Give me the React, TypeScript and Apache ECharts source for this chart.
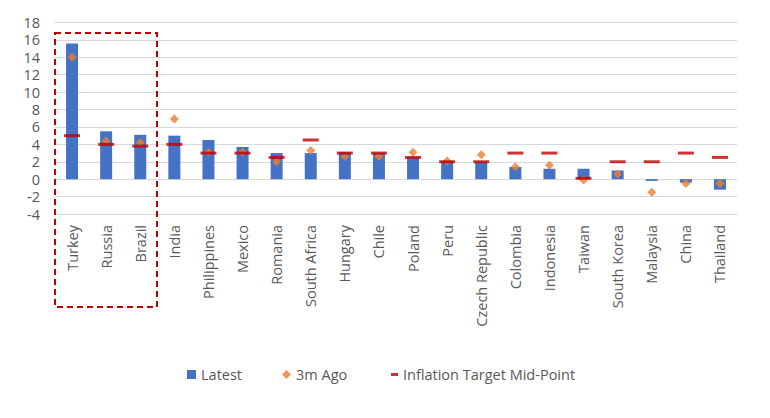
import React, { useEffect, useRef } from "react";
import * as echarts from "echarts";

const categories = [
  "Turkey", "Russia", "Brazil", "India", "Philippines", "Mexico", "Romania",
  "South Africa", "Hungary", "Chile", "Poland", "Peru", "Czech Republic",
  "Colombia", "Indonesia", "Taiwan", "South Korea", "Malaysia", "China", "Thailand",
];
const latest = [15.6, 5.5, 5.1, 5.0, 4.5, 3.7, 3.0, 3.0, 3.1, 3.0, 2.5, 2.1, 2.0, 1.4, 1.2, 1.2, 1.0, -0.2, -0.4, -1.2];
const ago3m = [14.0, 4.4, 4.2, 6.9, 3.1, 3.1, 2.0, 3.3, 2.6, 2.6, 3.1, 2.1, 2.8, 1.4, 1.6, -0.1, 0.6, -1.5, -0.5, -0.5];
const target = [5.0, 4.0, 3.8, 4.0, 3.0, 3.0, 2.5, 4.5, 3.0, 3.0, 2.5, 2.0, 2.0, 3.0, 3.0, 0.1, 2.0, 2.0, 3.0, 2.5];
const yTicks = { min: -4, max: 18, interval: 2 };

const FONT = "'Open Sans', 'Noto Sans', sans-serif";
const GREY = "#595959";
const FS = 14.5;

export default function App() {
  const ref = useRef<HTMLDivElement>(null);
  useEffect(() => {
    if (!ref.current) return;
    const chart = echarts.init(ref.current, null, { renderer: "svg" });
    chart.setOption({
      animation: false,
      backgroundColor: "#ffffff",
      textStyle: { fontFamily: FONT },
      grid: { left: 55, right: 33, top: 22.5, bottom: 418 - 214 },
      legend: [
        {
          data: [
            { name: "Latest", icon: "rect" },
            { name: "3m Ago", icon: "diamond" },
          ],
          left: 187,
          top: 367,
          padding: 0,
          itemWidth: 9,
          itemHeight: 9,
          itemGap: 40,
          textStyle: { color: GREY, fontSize: FS, fontFamily: FONT },
        },
        {
          data: [{ name: "Inflation Target Mid-Point", icon: "rect" }],
          left: 391,
          top: 367,
          padding: 0,
          itemWidth: 7,
          itemHeight: 3,
          textStyle: { color: GREY, fontSize: FS, fontFamily: FONT },
        },
      ],
      xAxis: {
        type: "category",
        data: categories,
        position: "bottom",
        axisLine: { show: false },
        axisTick: { show: false },
        axisLabel: {
          rotate: 90,
          interval: 0,
          margin: 11,
          color: GREY,
          fontSize: FS,
          fontFamily: FONT,
        },
      },
      yAxis: {
        type: "value",
        min: yTicks.min,
        max: yTicks.max,
        interval: yTicks.interval,
        axisLine: { show: false },
        axisTick: { show: false },
        axisLabel: { color: GREY, fontSize: FS, fontFamily: FONT, margin: 15 },
        splitLine: { lineStyle: { color: "#d9d9d9", width: 1 } },
      },
      series: [
        {
          name: "Latest",
          type: "bar",
          data: latest,
          barWidth: 12,
          itemStyle: { color: "#4472C4" },
        },
        {
          name: "3m Ago",
          type: "scatter",
          data: ago3m,
          symbol: "diamond",
          symbolSize: 9,
          itemStyle: { color: "#ED7D31" },
        },
        {
          name: "Inflation Target Mid-Point",
          type: "scatter",
          data: target,
          symbol: "rect",
          symbolSize: [16, 3],
          itemStyle: { color: "#C00000" },
        },
      ],
      graphic: [
        {
          type: "rect",
          shape: { x: 55, y: 33, width: 102, height: 274 },
          style: { fill: "none", stroke: "#C00000", lineWidth: 2, lineDash: [6, 4] },
          z: 10,
        },
      ],
    });
    return () => chart.dispose();
  }, []);
  return <div ref={ref} style={{ width: 770, height: 418, marginLeft: -8, marginTop: -8 }} />;
}
